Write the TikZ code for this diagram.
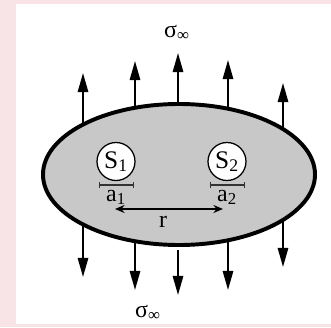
\documentclass[tikz,border=0pt]{standalone}
\usepackage{fontspec}
\setmainfont{Liberation Serif}
\usepackage{xcolor}
\usetikzlibrary{shapes.geometric, arrows.meta, positioning}
\definecolor{panelpink}{RGB}{248,228,230}
\definecolor{bodygray}{RGB}{200,200,200}
\tikzset{
  force/.style={-{Triangle[length=4.8mm, width=2.6mm]}, draw=black, line width=1.3pt},
  hole/.style={circle, draw=black, fill=white, minimum size=9.5mm, inner sep=0pt,
               line width=0.9pt, font=\fontsize{18}{20}\selectfont},
  sizebar/.style={{Bar[width=1.4mm]}-{Bar[width=1.4mm]}, draw=black!80, line width=0.9pt},
  label/.style={font=\fontsize{17}{19}\selectfont, inner sep=0pt},
}

\begin{document}
\begin{tikzpicture}[x=0.25mm, y=0.25mm,
  body/.style={ellipse, draw=black, fill=bodygray, minimum width=68mm,
               minimum height=35.25mm, inner sep=0pt, line width=2.8pt},
  gap/.style={{Stealth[length=2.4mm, width=2mm]}-{Stealth[length=2.4mm, width=2mm]},
              draw=black, line width=1.1pt}
]
  % background and panel
  \fill[panelpink] (0,0) rectangle (331,327);
  \fill[white] (16,3) rectangle (331,323);
  \useasboundingbox (0,0) rectangle (331,327);

  % far-field load
  \foreach \x/\yt/\yb/\off in {83/254/50/0, 135/266/37/0, 178/274/32/5, 228/267/37/0, 283/244/60/0} {
    \pgfmathsetmacro\h{70.5*sqrt(1-((\x-179)/136)^2)}
    \draw[force] (\x,152.5+\h) -- (\x,\yt);
    \draw[force] (\x,152.5-\h-\off) -- (\x,\yb);
  }

  \node[body] (B) at (179,152.5) {};

  \node[hole] (S1) at (116,165.5) {S\textsubscript{1}};
  \node[hole] (S2) at (227,165.5) {S\textsubscript{2}};

  \coordinate (a1l) at (99,142);
  \coordinate (a1r) at (134,142);
  \coordinate (a2l) at (210,142);
  \coordinate (a2r) at (245,142);
  \draw[sizebar] (a1l) -- (a1r);
  \draw[sizebar] (a2l) -- (a2r);
  \node[label] (a1) at (116,129.5) {a\textsubscript{1}};
  \node[label] (a2) at (227,129.5) {a\textsubscript{2}};

  \coordinate (rl) at (115,118);
  \coordinate (rr) at (223,118);
  \draw[gap] (rl) -- (rr);
  \node[label] (r) at (163,105) {r};

  \node[label] (stop) at (177,294) {σ\textsubscript{∞}};
  \node[label] (sbot) at (148,14) {σ\textsubscript{∞}};
\end{tikzpicture}
\end{document}
